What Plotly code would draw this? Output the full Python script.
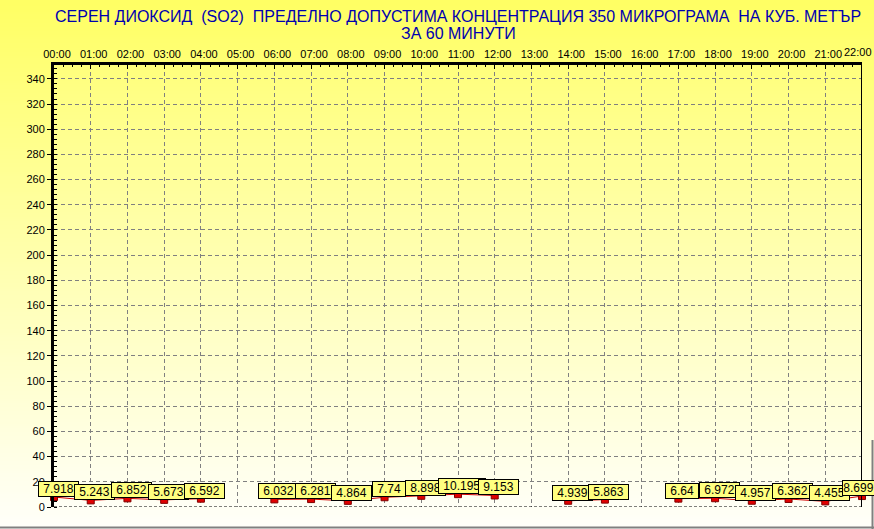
import base64, struct, zlib
import plotly.graph_objects as go

# ---------------- data ----------------
hours = ["00:00", "01:00", "02:00", "03:00", "04:00", "05:00", "06:00", "07:00",
         "08:00", "09:00", "10:00", "11:00", "12:00", "13:00", "14:00", "15:00",
         "16:00", "17:00", "18:00", "19:00", "20:00", "21:00", "22:00"]
so2 = [7.918, 5.243, 6.852, 5.673, 6.592, None, 6.032, 6.281, 4.864, 7.74, 8.898,
       10.195, 9.153, None, 4.939, 5.863, None, 6.64, 6.972, 4.957, 6.362, 4.455, 8.699]
labels = ["7.918", "5.243", "6.852", "5.673", "6.592", None, "6.032", "6.281", "4.864",
          "7.74", "8.898", "10.195", "9.153", None, "4.939", "5.863", None, "6.64",
          "6.972", "4.957", "6.362", "4.455", "8.699"]
y_ticks = list(range(0, 341, 20))
title1 = "СЕРЕН ДИОКСИД \u00a0(SO2) \u00a0ПРЕДЕЛНО ДОПУСТИМА КОНЦЕНТРАЦИЯ 350 МИКРОГРАМА \u00a0НА КУБ. МЕТЪР"
title2 = "ЗА 60 МИНУТИ"

# ---------------- helpers ----------------
def gradient_png(top, bottom, n=128):
    rows = b""
    for i in range(n):
        t = i / (n - 1)
        c = [round(top[k] + (bottom[k] - top[k]) * t) for k in range(3)]
        rows += b"\x00" + bytes(c)
    def chunk(tag, data):
        return struct.pack(">I", len(data)) + tag + data + struct.pack(">I", zlib.crc32(tag + data) & 0xffffffff)
    png = b"\x89PNG\r\n\x1a\n"
    png += chunk(b"IHDR", struct.pack(">IIBBBBB", 1, n, 8, 2, 0, 0, 0))
    png += chunk(b"IDAT", zlib.compress(rows))
    png += chunk(b"IEND", b"")
    return "data:image/png;base64," + base64.b64encode(png).decode()

def text_w(s, size=12):
    w = 0
    for ch in s:
        w += 0.278 if ch == "." else 0.556
    return w * size

W, H = 874, 529
L, R, T, B = 54, 12, 65, 22
pw, ph = W - L - R, H - T - B
def px(x):
    return (x - L) / pw
def py(y):
    return (H - B - y) / ph

x_idx = list(range(len(hours)))
last = len(hours) - 1

fig = go.Figure()
fig.add_trace(go.Scatter(
    x=x_idx, y=so2, mode="lines+markers", connectgaps=False,
    line=dict(color="#D00000", width=1),
    marker=dict(symbol="square", size=7, color="#E00000", line=dict(color="#800000", width=1)),
    cliponaxis=False, hoverinfo="skip", showlegend=False))

annotations = []
for i, (v, t) in enumerate(zip(so2, labels)):
    if v is None:
        continue
    annotations.append(dict(
        x=i, y=v, xref="x", yref="y", text=t, showarrow=False,
        xanchor="center", yanchor="bottom", xshift=(-4 if i == last else 4), yshift=0,
        font=dict(family="Arial, Liberation Sans", size=12, color="black"),
        bgcolor="#FFFF80", bordercolor="black", borderwidth=1, borderpad=0,
        width=text_w(t) + (1 if i == last else 9)))

annotations.append(dict(x=0.5, xref="paper", y=py(17), yref="paper", text=title1,
                        showarrow=False, xanchor="center", yanchor="middle",
                        font=dict(family="Arial, Liberation Sans", size=16, color="#0000B0")))
annotations.append(dict(x=0.5, xref="paper", y=py(33), yref="paper", text=title2,
                        showarrow=False, xanchor="center", yanchor="middle",
                        font=dict(family="Arial, Liberation Sans", size=16, color="#0000B0")))
# last hour label, pulled inside the page edge
annotations.append(dict(x=last, xref="x", y=py(52), yref="paper", text=hours[last],
                        showarrow=False, xanchor="right", yanchor="middle", xshift=12,
                        font=dict(family="Arial, Liberation Sans", size=11, color="black")))

images = [
    dict(source=gradient_png((255, 255, 100), (255, 255, 250)), xref="paper", yref="paper",
         x=px(0), y=py(0), sizex=W / pw, sizey=H / ph, sizing="stretch",
         xanchor="left", yanchor="top", layer="below"),
    dict(source=gradient_png((255, 255, 125), (255, 255, 245)), xref="paper", yref="paper",
         x=0, y=1, sizex=1, sizey=1, sizing="stretch",
         xanchor="left", yanchor="top", layer="below"),
]

shapes = [
    dict(type="line", xref="x", yref="y", x0=0, x1=22, y0=0, y1=0,
         line=dict(color="black", width=1, dash="3px,2px")),
    dict(type="line", xref="x", yref="paper", x0=22, x1=22, y0=0, y1=1,
         line=dict(color="black", width=2)),
    dict(type="line", xref="paper", yref="paper", x0=px(0), x1=px(W), y0=py(H - 1.5), y1=py(H - 1.5),
         line=dict(color="#808080", width=2)),
    dict(type="line", xref="paper", yref="paper", x0=px(W - 1.5), x1=px(W - 1.5), y0=py(H), y1=py(440),
         line=dict(color="#808080", width=2)),
]

tick_text = hours[:-1] + [""]

fig.update_layout(
    width=W, height=H,
    margin=dict(l=L, r=R, t=T, b=B, pad=0),
    paper_bgcolor="white", plot_bgcolor="rgba(0,0,0,0)",
    font=dict(family="Arial, Liberation Sans", size=11, color="black"),
    annotations=annotations, images=images, shapes=shapes,
    xaxis=dict(range=[0, 22], side="top", tickmode="array", tickvals=x_idx, ticktext=tick_text,
               showgrid=True, gridcolor="#808080", griddash="4px,3px", gridwidth=1,
               showline=True, linecolor="black", linewidth=3,
               ticks="inside", ticklen=4, tickcolor="black", ticklabelshift=3,
               minor=dict(dtick=0.25, ticks="inside", ticklen=2, tickcolor="black", showgrid=False),
               tickfont=dict(size=11), zeroline=False, fixedrange=True, automargin=False),
    yaxis=dict(range=[0, 351], tickmode="array", tickvals=y_ticks,
               showgrid=True, gridcolor="#808080", griddash="4px,3px", gridwidth=1,
               showline=True, linecolor="black", linewidth=3,
               ticks="outside", ticklen=4, tickcolor="black",
               minor=dict(dtick=4, ticks="inside", ticklen=3, tickcolor="black", showgrid=False),
               tickfont=dict(size=11), zeroline=False, fixedrange=True, automargin=False),
)

fig.write_html("out.html", config={"displayModeBar": False},
               post_script="document.body.style.margin='0';document.body.style.overflow='hidden';")
